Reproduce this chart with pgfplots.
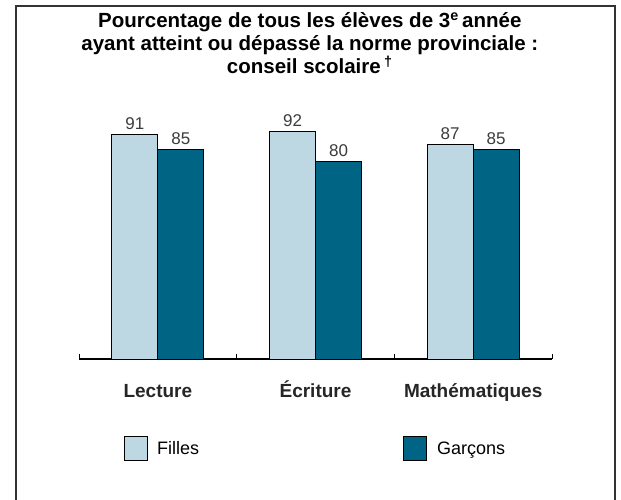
\documentclass[border=0pt]{standalone}
\usepackage{fontspec}
\setmainfont{Liberation Sans}
\usepackage{pgfplots}
\pgfplotsset{compat=1.18}
\definecolor{fille}{RGB}{189,216,227}
\definecolor{garcon}{RGB}{0,101,133}
\definecolor{valc}{RGB}{60,60,60}
\begin{document}
\begin{tikzpicture}
\useasboundingbox (0,0) rectangle (621pt,499pt);
\fill[white] (0,0) rectangle (621pt,499pt);
\begin{axis}[
  at={(79pt,140pt)}, anchor=south west,
  scale only axis, width=473pt, height=247pt,
  xmin=-0.5, xmax=2.5, ymin=0, ymax=100,
  axis x line*=bottom, axis y line=none,
  axis line style={-, black, line width=1.1pt},
  xtick={-0.5,0.5,1.5,2.5}, xticklabels={,,,},
  tick align=outside, major tick length=-5pt,
  tick style={black, line width=1pt},
  extra x ticks={0,1,2},
  extra x tick labels={Lecture,Écriture,Mathématiques},
  extra x tick style={major tick length=0pt,
    xticklabel style={font=\bfseries\fontsize{19}{19}\selectfont, text=black!85, anchor=base, yshift=-38pt}},
  ybar, bar width=46pt,
  nodes near coords,
  /pgf/number format/assume math mode=true,
  every node near coord/.append style={font=\fontsize{17}{17}\selectfont, text=valc, yshift=1pt},
  title={Pourcentage de tous les élèves de 3\textsuperscript{e}\,année\\ayant atteint ou dépassé la norme provinciale :\\conseil scolaire\,\textsuperscript{†}},
  title style={at={(axis description cs:0.488,1.255)}, anchor=center, align=center,
    font=\bfseries\fontsize{20.5}{23}\selectfont},
  legend columns=2,
  legend style={draw=none, fill=none, at={(axis description cs:0.095,-0.364)}, anchor=west,
    font=\fontsize{18}{18}\selectfont, inner sep=0pt,
    /tikz/column 1/.style={column sep=7pt},
    /tikz/column 2/.style={column sep=202pt},
    /tikz/column 3/.style={column sep=8pt}},
  legend image code/.code={\draw[#1, line width=1pt] (0pt,-12pt) rectangle (23pt,12pt);},
]
\addplot[fill=fille, draw=black, line width=1pt, bar shift=-23pt] coordinates {(0,91) (1,92) (2,87)};
\addplot[fill=garcon, draw=black, line width=1pt, bar shift=23pt] coordinates {(0,85) (1,80) (2,85)};
\legend{Filles, Garçons}
\end{axis}
\draw[black!80, line width=1.3pt] (16pt,-2pt) -- (16pt,493pt) -- (615pt,493pt) -- (615pt,-2pt);
\end{tikzpicture}
\end{document}
